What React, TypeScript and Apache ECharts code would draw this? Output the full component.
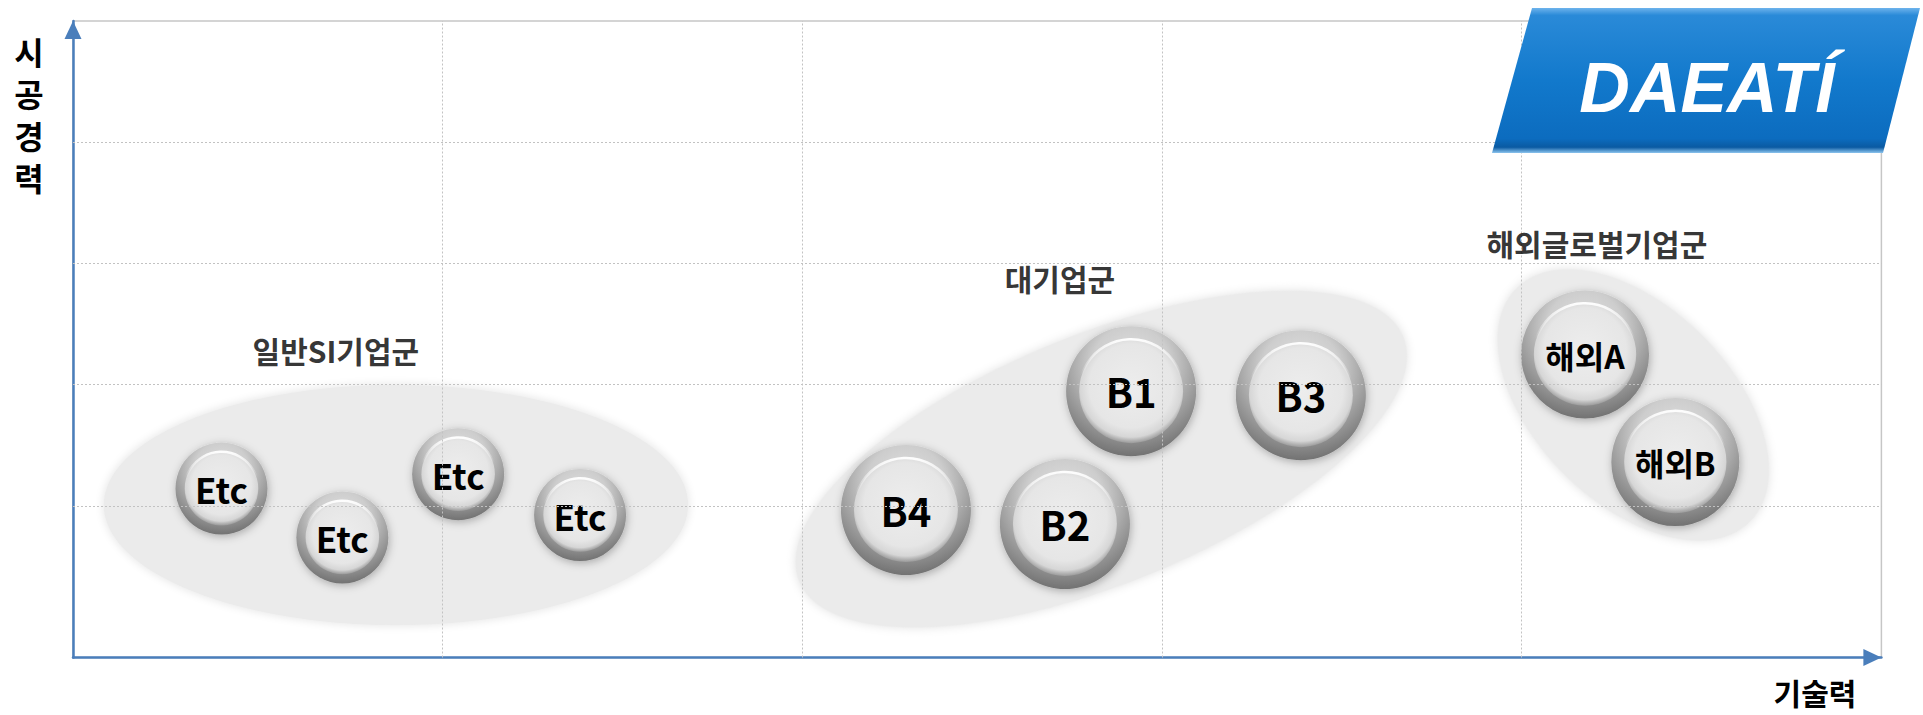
import React, { useEffect, useRef } from "react";
import * as echarts from "echarts";

// ---- data ----
const xMin = -0.0278;
const xMax = 5;
const xGridValues = [1, 2, 3, 4];
const yMin = 0;
const yMax = 5.25;
const yGridValues = [1.25, 2.25, 3.25, 4.25];

const xAxisTitle = "기술력";
const yAxisTitle = "시공경력";

const etcNames = ["Etc", "Etc", "Etc", "Etc"];
const etcX = [0.385, 0.721, 1.043, 1.382];
const etcY = [1.393, 0.99, 1.512, 1.175];

const bigNames = ["B1", "B2", "B3", "B4"];
const bigX = [2.914, 2.73, 3.386, 2.288];
const bigY = [2.197, 1.101, 2.164, 1.217];

const globalNames = ["해외A", "해외B"];
const globalX = [4.176, 4.427];
const globalY = [2.499, 1.612];

const groupNames = ["일반SI기업군", "대기업군", "해외글로벌기업군"];
const groupX = [0.87, 2.831, 4.31];
const groupY = [1.258, 1.637, 2.083];
const groupSpreadX = [0.812, 0.906, 0.459];
const groupSpreadY = [0.99, 1.031, 0.808];
const groupTilt = [0, 22, -45];
const groupLabelX = [0.703, 2.716, 4.209];
const groupLabelY = [2.535, 3.127, 3.417];

const logoText = "DAEATÍ";

const FONT = '"Noto Sans CJK KR", "Noto Sans", sans-serif';

function bubbleSeries(names: string[], xs: number[], ys: number[], d: number, fontSize: number) {
  const data = xs.map((x, i) => ({ name: names[i], value: [x, ys[i]] }));
  return [
    {
      type: "scatter",
      z: 3,
      silent: true,
      symbol: "circle",
      symbolSize: d,
      data,
      itemStyle: {
        opacity: 1,
        color: {
          type: "radial",
          x: 0.5,
          y: 0.3,
          r: 0.75,
          colorStops: [
            { offset: 0, color: "#e2e2e2" },
            { offset: 0.4, color: "#cdcdcd" },
            { offset: 0.7, color: "#9a9a9a" },
            { offset: 1, color: "#676767" },
          ],
        },
        shadowBlur: 8,
        shadowColor: "rgba(0,0,0,0.28)",
        shadowOffsetX: 1,
        shadowOffsetY: 2,
      },
    },
    {
      type: "scatter",
      z: 4,
      silent: true,
      symbol: "circle",
      symbolSize: d * 0.8,
      data,
      itemStyle: {
        opacity: 1,
        color: {
          type: "radial",
          x: 0.5,
          y: 0.45,
          r: 0.56,
          colorStops: [
            { offset: 0, color: "#ededed" },
            { offset: 0.72, color: "#e6e6e6" },
            { offset: 0.88, color: "#d6d6d6" },
            { offset: 1, color: "rgba(190,190,190,0.2)" },
          ],
        },
        borderWidth: 2.5,
        borderColor: {
          type: "linear",
          x: 0,
          y: 0,
          x2: 0,
          y2: 1,
          colorStops: [
            { offset: 0, color: "rgba(255,255,255,0.95)" },
            { offset: 0.35, color: "rgba(255,255,255,0)" },
            { offset: 1, color: "rgba(255,255,255,0)" },
          ],
        },
      },
      label: {
        show: true,
        position: "inside",
        formatter: "{b}",
        color: "#000",
        fontSize,
        fontWeight: "bold",
        fontFamily: FONT,
      },
    },
  ];
}

export default function App() {
  const ref = useRef<HTMLDivElement>(null);

  useEffect(() => {
    if (!ref.current) return;
    const chart = echarts.init(ref.current, undefined, { renderer: "svg" });

    const axisLine = {
      show: true,
      onZero: false,
      lineStyle: { color: "#4a7ebb", width: 2.5 },
      symbol: ["none", "triangle"],
      symbolSize: [17, 18],
      symbolOffset: [0, -9],
    };
    const gridLineStyle = { color: "#c2c2c2", type: [2, 2], width: 1 };

    const option: any = {
      animation: false,
      backgroundColor: "#ffffff",
      grid: {
        left: 73,
        right: 41.6,
        top: 21,
        bottom: 57.5,
        show: true,
        borderColor: "#c6c6c6",
        borderWidth: 1.5,
        backgroundColor: "transparent",
      },
      xAxis: {
        type: "value",
        min: xMin,
        max: xMax,
        axisLine,
        axisTick: { show: false },
        axisLabel: { show: false },
        splitLine: { show: false },
      },
      yAxis: {
        type: "value",
        min: yMin,
        max: yMax,
        axisLine,
        axisTick: { show: false },
        axisLabel: { show: false },
        splitLine: { show: false },
      },
      series: [
        {
          type: "line",
          z: 1,
          data: [],
          silent: true,
          markLine: {
            silent: true,
            symbol: "none",
            label: { show: false },
            lineStyle: gridLineStyle,
            data: [
              ...yGridValues.map((v) => ({ yAxis: v })),
              ...xGridValues.map((v) => ({ xAxis: v })),
            ],
          },
        },
        {
          type: "custom",
          z: 2,
          silent: true,
          data: groupX.map((x, i) => [x, groupY[i], groupSpreadX[i], groupSpreadY[i], groupTilt[i]]),
          encode: { x: 0, y: 1 },
          renderItem: (params: any, api: any) => {
            const c = api.coord([api.value(0), api.value(1)]);
            const sx = api.size([api.value(2), 0])[0];
            const sy = api.size([0, api.value(3)])[1];
            return {
              type: "ellipse",
              x: c[0],
              y: c[1],
              rotation: (api.value(4) * Math.PI) / 180,
              shape: { cx: 0, cy: 0, rx: sx, ry: sy },
              style: { fill: "#ebebeb", shadowBlur: 10, shadowColor: "rgba(225,225,225,1)" },
            };
          },
        },
        {
          type: "scatter",
          z: 5,
          silent: true,
          symbolSize: 1,
          itemStyle: { color: "rgba(0,0,0,0)" },
          data: groupNames.map((n, i) => ({ name: n, value: [groupLabelX[i], groupLabelY[i]] })),
          label: {
            show: true,
            position: "inside",
            formatter: "{b}",
            color: "#000",
            fontSize: 30,
            fontWeight: "bold",
            fontFamily: FONT,
          },
        },
        ...bubbleSeries(etcNames, etcX, etcY, 92, 35),
        ...bubbleSeries(bigNames, bigX, bigY, 130, 40),
        ...bubbleSeries(globalNames, globalX, globalY, 128, 32),
      ],
      graphic: [
        {
          type: "polygon",
          z: 100,
          shape: { points: [[1532, 8], [1920, 8], [1883, 153], [1492, 153]] },
          style: {
            fill: new echarts.graphic.LinearGradient(0, 0, 0, 1, [
              { offset: 0, color: "#6db3ec" },
              { offset: 0.05, color: "#2a8ad8" },
              { offset: 0.5, color: "#1279cc" },
              { offset: 0.9, color: "#0c6cbf" },
              { offset: 0.96, color: "#0a5aa2" },
              { offset: 1, color: "#8cc4ee" },
            ]),
          },
        },
        {
          type: "text",
          z: 101,
          x: 1707,
          y: 88,
          style: {
            text: logoText,
            fill: "#ffffff",
            fontSize: 70,
            fontWeight: "bold",
            fontStyle: "italic",
            fontFamily: '"Liberation Sans", Arial, sans-serif',
            align: "center",
            verticalAlign: "middle",
          },
        },
        {
          type: "text",
          x: 29,
          y: 114,
          style: {
            text: yAxisTitle.split("").join("\n"),
            fill: "#000",
            fontSize: 32,
            lineHeight: 42,
            fontWeight: "bold",
            fontFamily: FONT,
            align: "center",
            verticalAlign: "middle",
          },
        },
        {
          type: "text",
          x: 1815,
          y: 692,
          style: {
            text: xAxisTitle,
            fill: "#000",
            fontSize: 30,
            fontWeight: "bold",
            fontFamily: FONT,
            align: "center",
            verticalAlign: "middle",
          },
        },
      ],
    };

    chart.setOption(option);
    return () => chart.dispose();
  }, []);

  return (
    <div
      ref={ref}
      style={{ position: "absolute", left: 0, top: 0, width: 1923, height: 715 }}
    />
  );
}
